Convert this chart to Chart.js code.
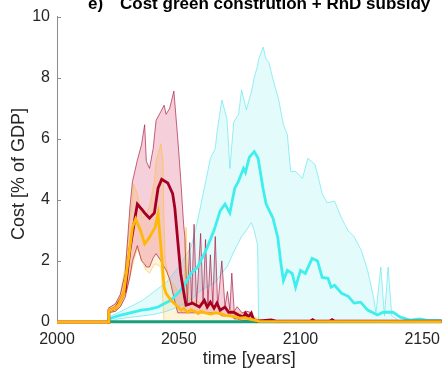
<!DOCTYPE html>
<html>
<head>
<meta charset="utf-8">
<script src="https://cdn.jsdelivr.net/npm/chart.js@4/dist/chart.umd.min.js"></script>
<style>
  html, body { margin: 0; padding: 0; background: #fff; }
  canvas { display: block; }
</style>
</head>
<body>
<canvas id="cost-chart" width="448" height="370"></canvas>
<script>
/* ========================================
   Cost green construction + RnD subsidy
   ======================================== */

const xTicks = [2000, 2050, 2100, 2150];
const yTicks = [0, 2, 4, 6, 8, 10];

// [year, value]
const redMean = [
  [2000, 0], [2021, 0], [2021.3, 0.38], [2024, 0.45], [2026, 0.7], [2028, 1.04],
  [2030, 2.4], [2032, 3.4], [2033, 3.86], [2034.7, 3.7], [2036, 3.57], [2038, 3.4],
  [2040, 3.57], [2041.5, 4.38], [2043, 4.67], [2045.5, 4.55], [2047.5, 4.2],
  [2048.4, 3.73], [2049.6, 2.66], [2050.8, 1.59], [2052.4, 0.81], [2053, 0.55],
  [2055.6, 0.62], [2058.5, 0.49], [2060.5, 0.71], [2061.7, 0.49], [2063, 0.65],
  [2064.5, 0.45], [2065.7, 0.62], [2067, 0.39], [2069, 0.49], [2070.5, 0.32],
  [2072.5, 0.32], [2074.5, 0.23], [2076.6, 0.16], [2077.4, 0.29], [2078.6, 0.16],
  [2079.8, 0.29], [2080.6, 0.1], [2082, 0.03], [2088, 0.07], [2090, 0.03],
  [2104, 0.03], [2105, 0.08], [2106, 0.03], [2112, 0.03], [2113, 0.08],
  [2114, 0.03], [2158, 0.03]
];

// [year, lower, upper]
const redBand = [
  [2021, 0.3, 0.45], [2024, 0.35, 0.6], [2026, 0.5, 0.9], [2028, 0.8, 1.6],
  [2030, 1.5, 3.8], [2031, 2.0, 4.6], [2033, 2.5, 5.3], [2034.7, 2.0, 5.8],
  [2036, 1.9, 6.46], [2036.7, 1.8, 5.26], [2038, 1.8, 5.03], [2039.5, 2.1, 5.68],
  [2040.7, 2.24, 6.6], [2042.7, 2.0, 6.9], [2044, 1.8, 7.1], [2044.8, 1.7, 6.8],
  [2046.3, 1.4, 7.0], [2048, 0.8, 7.56], [2049.6, 0.3, 6.0], [2050.8, 0.3, 4.7],
  [2052, 0.3, 3.2], [2052.5, 0.3, 2.8], [2053.5, 0.3, 0.6], [2054.5, 0.3, 2.6],
  [2055.3, 0.3, 0.6], [2056.3, 0.3, 3.2], [2057.3, 0.3, 0.6], [2058, 0.3, 1.5],
  [2059, 0.3, 2.9], [2060, 0.3, 0.6], [2061, 0.3, 2.7], [2062, 0.3, 0.6],
  [2063, 0.3, 2.2], [2064, 0.3, 0.6], [2065, 0.3, 2.8], [2066, 0.3, 0.5],
  [2067.7, 0.2, 2.0], [2069, 0.2, 0.5], [2070, 0.2, 1.0], [2071, 0.2, 0.4],
  [2071.8, 0.2, 1.6], [2072.8, 0.1, 0.35], [2074, 0.1, 0.5], [2076, 0.05, 0.3],
  [2078, 0.05, 0.35], [2080, 0, 0.3], [2081, 0, 0.1], [2083, 0, 0.05]
];

const yellowMean = [
  [2000, 0], [2021, 0], [2021.3, 0.38], [2024, 0.45], [2025.5, 0.6], [2027.4, 0.94],
  [2029.4, 2.1], [2031, 3.1], [2032.3, 3.37], [2034.3, 3.0], [2036, 2.56],
  [2037.9, 2.76], [2040.3, 3.1], [2041.5, 3.54], [2042.7, 2.44], [2044, 1.14],
  [2044.8, 0.94], [2046.8, 0.71], [2048, 0.62], [2049.6, 0.5], [2051, 0.39],
  [2052, 0.45], [2053.6, 0.32], [2055, 0.4], [2056.5, 0.35], [2058, 0.28],
  [2059, 0.34], [2061, 0.3], [2063, 0.26], [2065, 0.3], [2067, 0.28], [2069, 0.22],
  [2071, 0.2], [2073, 0.18], [2075, 0.13], [2077, 0.14], [2079, 0.1], [2083, 0.02],
  [2158, 0.01]
];

const yellowBand = [
  [2021, 0.3, 0.45], [2024, 0.35, 0.55], [2026, 0.5, 0.9], [2028, 0.9, 1.8],
  [2030, 1.5, 3.3], [2031.5, 2.0, 4.5], [2033, 2.4, 4.2], [2035, 2.0, 3.4],
  [2036.5, 1.7, 3.5], [2038, 1.6, 3.8], [2040, 1.9, 4.6], [2040.7, 1.9, 5.26],
  [2042.7, 1.8, 5.84], [2043.5, 0.7, 5.3], [2044, 0, 3.2], [2044.5, 0, 2.0],
  [2046, 0, 1.4], [2048, 0, 1.2], [2050, 0, 1.0], [2052, 0, 0.9], [2053, 0, 3.1],
  [2054, 0, 0.8], [2056, 0, 0.7], [2060, 0, 0.6], [2065, 0, 0.5], [2070, 0, 0.4],
  [2075, 0, 0.3], [2080, 0, 0.2], [2085, 0, 0.05]
];

const cyanMean = [
  [2021, 0], [2021.3, 0.1], [2025, 0.2], [2030, 0.3], [2034.7, 0.39], [2038, 0.42],
  [2041.5, 0.49], [2044, 0.6], [2046.8, 0.71], [2048.5, 0.85], [2050.8, 1.04],
  [2053, 1.3], [2055, 1.59], [2057.7, 1.79], [2060.5, 2.24], [2061.7, 2.44],
  [2064.5, 3.0], [2067, 3.64], [2069, 3.86], [2071, 3.57], [2073, 4.38],
  [2074.5, 4.6], [2076.6, 5.03], [2077.4, 4.9], [2079, 5.4], [2081, 5.58],
  [2082.6, 5.36], [2084.6, 4.38], [2085.9, 3.86], [2088.7, 3.4], [2090.7, 2.76],
  [2092, 1.9], [2093, 1.36], [2094.6, 1.69], [2096.6, 1.59], [2098, 1.14],
  [2100, 1.69], [2102, 1.59], [2104.8, 2.08], [2107, 2.0], [2108.9, 1.46],
  [2111.3, 1.43], [2112.6, 1.14], [2114, 1.2], [2116.9, 0.94], [2119.6, 0.84],
  [2122, 0.62], [2124.7, 0.65], [2127.6, 0.39], [2131.6, 0.23], [2134, 0.32],
  [2138, 0.32], [2141, 0.16], [2145, 0.06], [2149, 0.1], [2152, 0.05], [2158, 0.05]
];

const cyanBand = [
  [2021, 0, 0.15], [2025, 0.1, 0.3], [2030, 0.15, 0.5], [2035, 0.2, 0.7],
  [2040, 0.25, 1.0], [2045, 0.35, 1.3], [2050, 0.5, 1.8], [2055, 0.7, 2.44],
  [2057.7, 0.94, 3.3], [2060.5, 1.1, 4.38], [2063, 1.2, 5.36], [2065, 1.3, 5.68],
  [2065.7, 1.36, 6.2], [2067.7, 1.6, 7.27], [2069.8, 1.8, 6.66], [2071, 2.0, 5.03],
  [2072.6, 2.3, 6.56], [2074.6, 2.6, 6.8], [2075.8, 2.8, 7.6], [2077.8, 3.0, 6.95],
  [2079.8, 3.25, 7.53], [2081, 3.0, 8.0], [2082.4, 2.5, 8.4], [2082.8, 0, 8.6],
  [2084.7, 0, 9.0], [2085.9, 0, 8.6], [2087, 0, 8.5], [2089, 0, 7.86], [2091, 0, 7.3],
  [2093, 0, 6.46], [2094.6, 0, 6.14], [2096, 0, 4.93], [2098, 0, 4.93],
  [2100.8, 0, 4.7], [2103, 0, 5.36], [2106, 0, 5.16], [2109, 0, 4.19], [2111, 0, 3.9],
  [2114, 0, 3.96], [2116.9, 0, 3.4], [2119.5, 0, 3.0], [2122, 0, 2.8], [2125, 0, 2.34],
  [2127.6, 0, 1.69], [2130, 0, 0.81], [2131, 0, 0.3], [2133, 0, 1.8], [2134.5, 0, 0.2],
  [2136, 0, 1.8], [2137.5, 0, 0.2], [2139.5, 0, 0.1], [2140, 0, 0]
];

const greenMean = [[2021, 0.01], [2158, 0.01]];

const FONT = '"Liberation Sans", Arial, Helvetica, sans-serif';

const pts = (arr, col = 1) => arr.map((r) => ({ x: r[0], y: r[col] }));

function line(data, color, width, order, extra = {}) {
  return {
    data,
    borderColor: color,
    borderWidth: width,
    pointRadius: 0,
    fill: false,
    tension: 0,
    clip: 8,
    order,
    ...extra,
  };
}

// band = lower dataset, then upper dataset filled to lower
const datasets = [];
function band(arr, edge, fillColor, order) {
  const lowIdx = datasets.length;
  datasets.push(line(pts(arr, 1), edge, 1, order));
  datasets.push(
    line(pts(arr, 2), edge, 1, order, {
      fill: { target: lowIdx },
      backgroundColor: fillColor,
    }),
  );
}

band(cyanBand, "rgba(70, 225, 235, 0.55)", "rgba(140, 240, 240, 0.24)", 8);
band(yellowBand, "rgba(255, 190, 20, 0.5)", "rgba(255, 195, 70, 0.2)", 7);
band(redBand, "rgba(165, 20, 60, 0.65)", "rgba(215, 60, 100, 0.24)", 6);
datasets.push(line(pts(greenMean), "#17a07a", 3, 4));
datasets.push(line(pts(cyanMean), "#40eeee", 2.8, 3));
datasets.push(line(pts(redMean), "#a50024", 2.8, 2));
datasets.push(line(pts(yellowMean), "#ffb808", 2.8, 1));

const decor = {
  id: "decor",
  beforeDatasetsDraw(chart) {
    const { ctx, chartArea, scales } = chart;
    ctx.save();
    ctx.strokeStyle = "#8c8c8c";
    ctx.lineWidth = 1;
    yTicks.forEach((v) => {
      const y = Math.round(scales.y.getPixelForValue(v)) + 0.5;
      ctx.beginPath();
      ctx.moveTo(chartArea.left, y);
      ctx.lineTo(chartArea.left + 4, y);
      ctx.stroke();
    });
    ctx.restore();
  },
  afterDraw(chart) {
    const { ctx, chartArea } = chart;
    ctx.save();
    ctx.fillStyle = "#000";
    ctx.font = `bold 17px ${FONT}`;
    ctx.textBaseline = "alphabetic";
    ctx.textAlign = "left";
    ctx.fillText("e)", 88, 9);
    ctx.fillText("Cost green constrution + RnD subsidy", 120, 9);

    ctx.fillStyle = "#262626";
    ctx.font = `18px ${FONT}`;
    ctx.textAlign = "center";
    ctx.fillText("time [years]", (chartArea.left + chartArea.right) / 2, 364);

    ctx.translate(24, 174);
    ctx.rotate(-Math.PI / 2);
    ctx.fillText("Cost [% of GDP]", 0, 0);
    ctx.restore();
  },
};

new Chart(document.getElementById("cost-chart"), {
  type: "line",
  data: { datasets },
  options: {
    responsive: false,
    animation: false,
    layout: { padding: { top: 14, right: 0, left: 0, bottom: 0 } },
    plugins: {
      legend: { display: false },
      tooltip: { enabled: false },
      filler: { drawTime: "beforeDatasetsDraw" },
    },
    scales: {
      x: {
        type: "linear",
        min: 2000,
        max: 2158,
        afterBuildTicks: (s) => {
          s.ticks = xTicks.map((v) => ({ value: v }));
        },
        afterFit: (s) => {
          s.height = 48;
        },
        grid: { display: false, drawTicks: false },
        border: { display: true, color: "#8c8c8c" },
        ticks: {
          color: "#262626",
          padding: 8,
          maxRotation: 0,
          font: { family: FONT, size: 16 },
          callback: (v) => String(v),
        },
      },
      y: {
        min: 0,
        max: 10,
        afterBuildTicks: (s) => {
          s.ticks = yTicks.map((v) => ({ value: v }));
        },
        afterFit: (s) => {
          s.width = 57;
        },
        grid: { display: false, drawTicks: false },
        border: { display: true, color: "#8c8c8c" },
        ticks: {
          color: "#262626",
          padding: 7,
          font: { family: FONT, size: 16 },
        },
      },
    },
  },
  plugins: [decor],
});
</script>
</body>
</html>
